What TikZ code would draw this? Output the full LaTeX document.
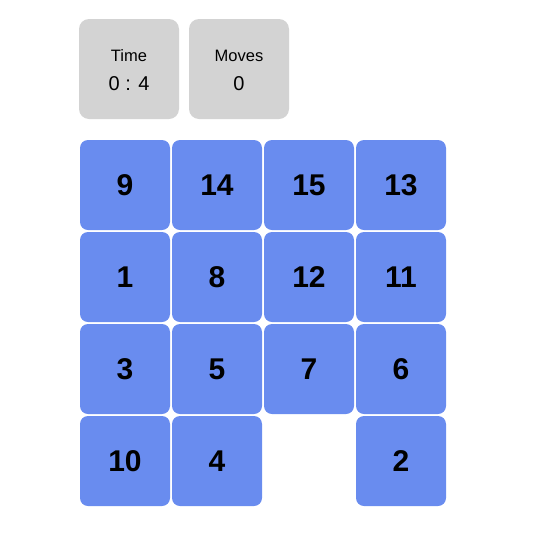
\documentclass[tikz,border=0pt]{standalone}
\usepackage{fontspec}
\setmainfont{Liberation Sans}
\usetikzlibrary{positioning}

\definecolor{tileblue}{RGB}{105,140,239}
\definecolor{panelgray}{RGB}{211,211,211}

\tikzset{
    panel/.style={fill=panelgray, rounded corners=10pt, minimum width=100pt,
                  minimum height=100pt, inner sep=0pt, outer sep=0pt},
    tile/.style={fill=tileblue, rounded corners=8pt, minimum width=90pt,
                 minimum height=90pt, inner sep=0pt, outer sep=0pt,
                 font=\fontsize{30}{30}\selectfont\bfseries},
    small/.style={anchor=base, inner sep=0pt, font=\fontsize{16.5}{16.5}\selectfont},
    big/.style={anchor=base, inner sep=0pt, font=\fontsize{20}{20}\selectfont}
}

\begin{document}
\begin{tikzpicture}
                \useasboundingbox (0,0) rectangle (535pt,-539pt);

                % time and moves panels
                \node [panel] (time) at (129pt,-69pt) {};
                \node [panel, right = 10pt of time] (moves) {};
                \node [small] (timelbl) at ([yshift=8pt]time.center) {Time};
                \node [big] (timeval) at ([yshift=-21pt]time.center) {0 : 4};
                \node [small] (moveslbl) at ([yshift=8pt]moves.center) {Moves};
                \node [big] (movesval) at ([yshift=-21pt]moves.center) {0};

                % board
                \node [tile] (t9) at (125pt,-185pt) {9};
                \node [tile, right = 2pt of t9] (t14) {14};
                \node [tile, right = 2pt of t14] (t15) {15};
                \node [tile, right = 2pt of t15] (t13) {13};

                \node [tile, below = 2pt of t9] (t1) {1};
                \node [tile, right = 2pt of t1] (t8) {8};
                \node [tile, right = 2pt of t8] (t12) {12};
                \node [tile, right = 2pt of t12] (t11) {11};

                \node [tile, below = 2pt of t1] (t3) {3};
                \node [tile, right = 2pt of t3] (t5) {5};
                \node [tile, right = 2pt of t5] (t7) {7};
                \node [tile, right = 2pt of t7] (t6) {6};

                \node [tile, below = 2pt of t3] (t10) {10};
                \node [tile, right = 2pt of t10] (t4) {4};
                \node [tile, below = 2pt of t6] (t2) {2};
\end{tikzpicture}
\end{document}
